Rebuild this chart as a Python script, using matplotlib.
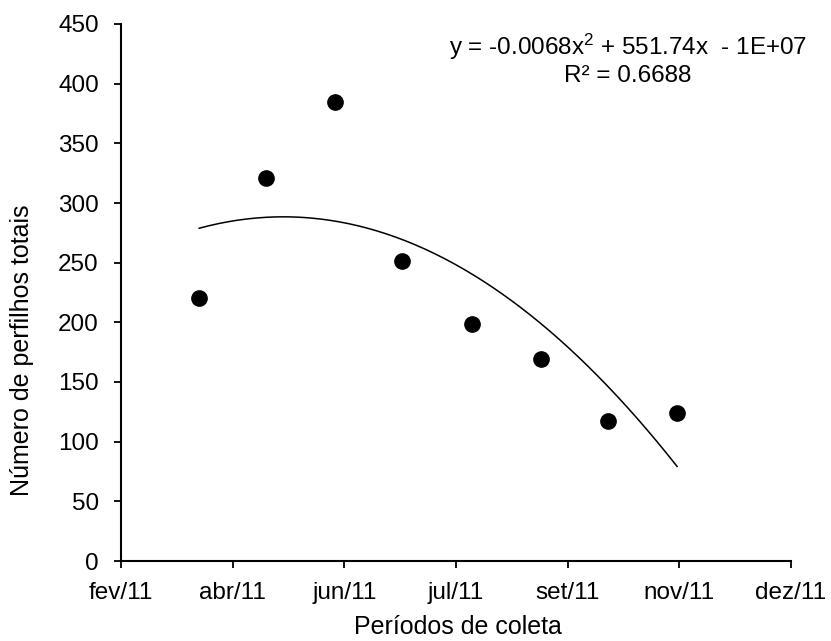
import numpy as np
import matplotlib
matplotlib.use("Agg")
import matplotlib.pyplot as plt

plt.rcParams['font.family'] = ['Liberation Sans', 'DejaVu Sans']
plt.rcParams['mathtext.fontset'] = 'custom'
plt.rcParams['mathtext.rm'] = 'Liberation Sans'
plt.rcParams['mathtext.it'] = 'Liberation Sans'

# collection dates and total tiller counts
dates = np.array(['2011-04-04', '2011-05-04', '2011-06-04', '2011-07-04',
                  '2011-08-04', '2011-09-04', '2011-10-04', '2011-11-04'],
                 dtype='datetime64[D]')
perfilhos = np.array([220, 321, 385, 251, 199, 169, 117, 124])

# axis: Excel style date axis, 50-day major unit
x_start = np.datetime64('2011-02-28')
x_step = 50
tick_labels = ['fev/11', 'abr/11', 'jun/11', 'jul/11', 'set/11', 'nov/11', 'dez/11']
y_ticks = [0, 50, 100, 150, 200, 250, 300, 350, 400, 450]

eq_text = 'y = -0.0068x$^{2}$ + 551.74x  - 1E+07'
r2_text = 'R² = 0.6688'

# polynomial trendline (order 2) on days
days = (dates - x_start).astype(float)
coef = np.polyfit(days, perfilhos, 2)
dd = np.linspace(days[0], days[-1], 200)
trend_dates = x_start + dd.astype('timedelta64[D]') + ((dd % 1) * 24 * 3600).astype('timedelta64[s]')

fig = plt.figure(figsize=(8.31, 6.41), dpi=100)
ax = fig.add_axes([121/831, 1 - 561/641, (791 - 121)/831, (561 - 24)/641])

ax.plot(trend_dates, np.polyval(coef, dd), color='black', lw=1.1)
ax.plot(dates, perfilhos, 'o', color='black', ms=11)

ticks = [x_start + np.timedelta64(x_step * k, 'D') for k in range(len(tick_labels))]
ax.set_xlim(ticks[0], ticks[-1])
ax.set_xticks(ticks)
ax.set_xticklabels(tick_labels)
ax.set_ylim(0, 450)
ax.set_yticks(y_ticks)

for s in ['top', 'right']:
    ax.spines[s].set_visible(False)
for s in ['left', 'bottom']:
    ax.spines[s].set_linewidth(1.5)
ax.tick_params(direction='out', length=5, width=1.3, labelsize=17.5)
ax.tick_params(axis='x', pad=10)
ax.tick_params(axis='y', pad=11)

ax.set_xlabel('Períodos de coleta', fontsize=18)
ax.set_ylabel('Número de perfilhos totais', fontsize=18)
ax.xaxis.set_label_coords((458 - 121) / 670, (561 - 627) / 537)
ax.yaxis.set_label_coords((22 - 121) / 670, (561 - 350) / 537)
ax.xaxis.label.set_va('center')
ax.yaxis.label.set_va('center')

ax.text(628 / 831, 1 - 47 / 641, eq_text, transform=fig.transFigure,
        ha='center', va='center', fontsize=17.5)
ax.text(628 / 831, 1 - 76 / 641, r2_text, transform=fig.transFigure,
        ha='center', va='center', fontsize=17.5)

fig.savefig('out.png', dpi=100)
